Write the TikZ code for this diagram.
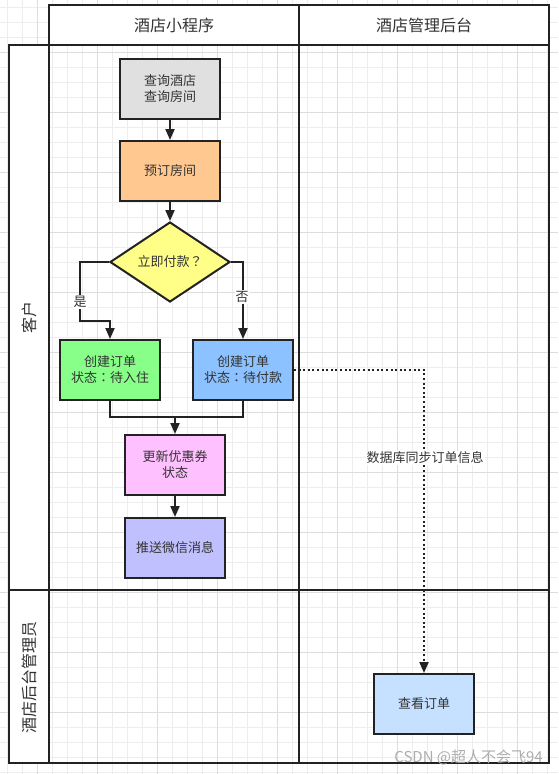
\documentclass[tikz,border=0pt]{standalone}
\usepackage{fontspec}
\setmainfont{Noto Sans CJK SC}
\newfontfamily\tcpunct{Noto Sans CJK TC}
\newcommand{\fwcolon}{{\tcpunct ：}}
\newcommand{\fwquest}{{\tcpunct ？}}
\usetikzlibrary{arrows.meta,shapes.geometric}
\definecolor{txt}{HTML}{333333}
\definecolor{edge}{HTML}{222222}
\definecolor{gridA}{HTML}{EDEDED}
\definecolor{gridB}{HTML}{DDDDDD}
\definecolor{cGray}{HTML}{E0E0E0}
\definecolor{cOrange}{HTML}{FFC891}
\definecolor{cYellow}{HTML}{FFFF88}
\definecolor{cGreen}{HTML}{88FF88}
\definecolor{cBlue}{HTML}{8CC2FF}
\definecolor{cPink}{HTML}{FFC0FF}
\definecolor{cLav}{HTML}{C0C0FF}
\definecolor{cLight}{HTML}{C6E0FF}
\tikzset{
  lane/.style={draw=edge,line width=2},
  stepbox/.style={draw=edge,line width=2,minimum width=100,minimum height=60,inner sep=0,
    text=txt,font=\fontsize{13}{16}\selectfont,align=center},
  decbox/.style={diamond,draw=edge,line width=2,minimum width=120,minimum height=80,inner sep=0,
    aspect=1.5,fill=cYellow,text=txt,font=\fontsize{13}{16}\selectfont},
  arr/.style={draw=edge,line width=2,-{Triangle[width=9,length=11]}},
  plain/.style={draw=edge,line width=2},
  elabel/.style={fill=white,inner sep=1,text=txt,font=\fontsize{13}{16}\selectfont},
  headtxt/.style={text=txt,font=\fontsize{16}{19}\selectfont},
}
\begin{document}
\begin{tikzpicture}[x=1pt,y=-1pt]
\useasboundingbox (0,0) rectangle (558,774);
\fill[white] (0,0) rectangle (558,774);
% grid
\foreach \i in {0,...,37} {\draw[gridA,line width=1] (7.3+15*\i,0) -- (7.3+15*\i,774);}
\foreach \i in {0,...,51} {\draw[gridA,line width=1] (0,7.3+15*\i) -- (558,7.3+15*\i);}
\foreach \i in {0,...,9} {\draw[gridB,line width=1] (37.3+60*\i,0) -- (37.3+60*\i,774);}
\foreach \i in {0,...,12} {\draw[gridB,line width=1] (0,-7.7+60*\i) -- (558,-7.7+60*\i);}
% lanes
\fill[white] (49,5) rectangle (549,45);
\fill[white] (9,45) rectangle (49,763);
\draw[lane] (49,5) rectangle (549,45);
\draw[lane] (9,45) rectangle (549,763);
\draw[lane] (49,45) -- (49,763);
\draw[lane] (299,5) -- (299,763);
\draw[lane] (9,590) -- (549,590);
\node[headtxt] (h1) at (174,25) {酒店小程序};
\node[headtxt] (h2) at (424,25) {酒店管理后台};
\node[headtxt,rotate=90] (r1) at (29,317) {客户};
\node[headtxt,rotate=90] (r2) at (29,677) {酒店后台管理员};
% nodes
\node[stepbox,fill=cGray] (q) at (170,89) {查询酒店\\查询房间};
\node[stepbox,fill=cOrange] (book) at (170,171) {预订房间};
\node[decbox] (dec) at (170,262) {立即付款\fwquest};
\node[stepbox,fill=cGreen] (c1) at (110,370) {创建订单\\状态\fwcolon 待入住};
\node[stepbox,fill=cBlue] (c2) at (243,370) {创建订单\\状态\fwcolon 待付款};
\node[stepbox,fill=cPink] (upd) at (175,465) {更新优惠券\\状态};
\node[stepbox,fill=cLav] (push) at (175,548) {推送微信消息};
\node[stepbox,fill=cLight] (view) at (424,704) {查看订单};
% edges
\coordinate (yl) at (80,321);
\coordinate (mid) at (175,417);
\draw[arr] (q) -- (book);
\draw[arr] (book) -- (dec);
\draw[arr] (dec.west) -| (yl) -| (c1.north);
\node[elabel] (lyes) at (80,302) {是};
\draw[arr] (dec.east) -| (c2.north);
\node[elabel] (lno) at (242,297) {否};
\draw[plain] (c1.south) |- (c2.south |- mid) -- (c2.south);
\draw[arr] (mid) -- (upd.north);
\draw[arr] (upd) -- (push);
\draw[arr,dash pattern=on 2 off 2.6] (c2.east) -| (view.north);
\node[elabel] (lsync) at (425,458) {数据库同步订单信息};
\node[text=black!32,font=\fontsize{15}{18}\selectfont,anchor=east,inner sep=0] (wm) at (543,757) {CSDN @超人不会飞94};
\end{tikzpicture}
\end{document}
